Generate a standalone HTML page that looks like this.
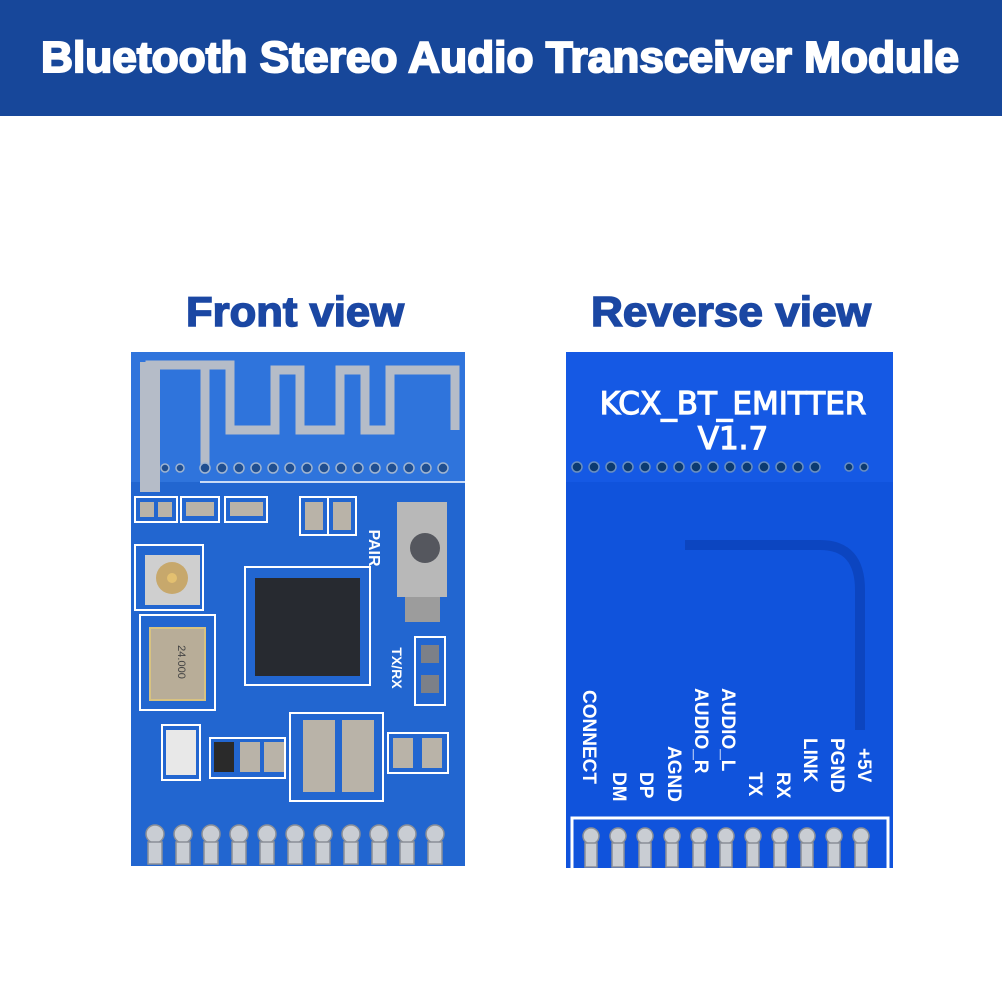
<!DOCTYPE html>
<html><head><meta charset="utf-8"><style>
html,body{margin:0;padding:0;background:#fff;width:1002px;height:1002px;overflow:hidden}
</style></head><body>
<svg width="1002" height="1002" viewBox="0 0 1002 1002" xmlns="http://www.w3.org/2000/svg" font-family="Liberation Sans, sans-serif">
<rect x="0" y="0" width="1002" height="116" fill="#17479a"/>
<text x="41" y="72" textLength="918" lengthAdjust="spacingAndGlyphs" font-size="44" font-weight="bold" fill="#fff" stroke="#fff" stroke-width="2">Bluetooth Stereo Audio Transceiver Module</text>
<text x="186" y="326" textLength="218" lengthAdjust="spacingAndGlyphs" font-size="42" font-weight="bold" fill="#1b47a3" stroke="#1b47a3" stroke-width="1.5">Front view</text>
<text x="591" y="326" textLength="280" lengthAdjust="spacingAndGlyphs" font-size="42" font-weight="bold" fill="#1b47a3" stroke="#1b47a3" stroke-width="1.5">Reverse view</text>

<!-- FRONT BOARD -->
<rect x="131" y="352" width="334" height="514" fill="#2266d0"/>
<rect x="131" y="352" width="334" height="130" fill="#2f74dc"/>
<path d="M150 490 V365 H205 V470 M205 365 H230 V430 H275 V370 H300 V430 H340 V370 H365 V430 H390 V370 H455 V430" fill="none" stroke="#b5bcc8" stroke-width="9"/>
<rect x="140" y="362" width="20" height="130" fill="#b5bcc8"/>
<g fill="#1f4e90" stroke="#9fb4d0" stroke-width="1.5">
<circle cx="165" cy="468" r="4"/><circle cx="180" cy="468" r="4"/>
<circle cx="205" cy="468" r="5"/><circle cx="222" cy="468" r="5"/><circle cx="239" cy="468" r="5"/><circle cx="256" cy="468" r="5"/><circle cx="273" cy="468" r="5"/><circle cx="290" cy="468" r="5"/><circle cx="307" cy="468" r="5"/><circle cx="324" cy="468" r="5"/><circle cx="341" cy="468" r="5"/><circle cx="358" cy="468" r="5"/><circle cx="375" cy="468" r="5"/><circle cx="392" cy="468" r="5"/><circle cx="409" cy="468" r="5"/><circle cx="426" cy="468" r="5"/><circle cx="443" cy="468" r="5"/>
</g>
<line x1="200" y1="482" x2="465" y2="482" stroke="#fff" stroke-width="1.5"/>
<g fill="none" stroke="#fff" stroke-width="2">
<rect x="135" y="497" width="42" height="25"/><rect x="181" y="497" width="38" height="25"/><rect x="225" y="497" width="42" height="25"/>
<rect x="300" y="497" width="28" height="38"/><rect x="328" y="497" width="28" height="38"/>
<rect x="135" y="545" width="68" height="65"/>
<rect x="245" y="567" width="125" height="118"/>
<rect x="140" y="615" width="75" height="95"/>
<rect x="415" y="637" width="30" height="68"/>
<rect x="290" y="713" width="93" height="88"/>
<rect x="162" y="725" width="38" height="55"/>
<rect x="210" y="738" width="75" height="40"/>
<rect x="388" y="733" width="60" height="40"/>
</g>
<g fill="#b9b3a8">
<rect x="140" y="502" width="14" height="15"/><rect x="158" y="502" width="14" height="15"/><rect x="186" y="502" width="28" height="14"/><rect x="230" y="502" width="33" height="14"/>
<rect x="305" y="502" width="18" height="28"/><rect x="333" y="502" width="18" height="28"/>
<rect x="150" y="628" width="55" height="72" fill="#b8ad98" stroke="#d8c280" stroke-width="2"/>
<rect x="397" y="502" width="50" height="95" fill="#b8b8b8"/>
<rect x="405" y="597" width="35" height="25" fill="#9c9c9c"/>
<rect x="303" y="720" width="32" height="72"/><rect x="342" y="720" width="32" height="72"/>
<rect x="214" y="742" width="20" height="30" fill="#2a2a2a"/><rect x="240" y="742" width="20" height="30"/><rect x="264" y="742" width="20" height="30"/>
<rect x="393" y="738" width="20" height="30"/><rect x="422" y="738" width="20" height="30"/>
<rect x="421" y="645" width="18" height="18" fill="#7c8088"/><rect x="421" y="675" width="18" height="18" fill="#7c8088"/>
<rect x="166" y="730" width="30" height="45" fill="#e8e8e8"/>
</g>
<rect x="145" y="555" width="55" height="50" fill="#cfcfcf"/>
<circle cx="172" cy="578" r="16" fill="#c7a86c"/><circle cx="172" cy="578" r="5" fill="#e3c070"/>
<circle cx="425" cy="548" r="15" fill="#55575e"/>
<rect x="255" y="578" width="105" height="98" fill="#272a30"/>
<text x="178" y="662" font-size="11" fill="#444" transform="rotate(90 178 662)" text-anchor="middle">24.000</text>
<text x="369" y="548" font-size="16" font-weight="bold" fill="#fff" transform="rotate(90 369 548)" text-anchor="middle">PAIR</text>
<text x="392" y="668" font-size="14" font-weight="bold" fill="#fff" transform="rotate(90 392 668)" text-anchor="middle">TX/RX</text>
<g fill="#c9cdd3" stroke="#8a8f98" stroke-width="1.5">
<circle cx="155" cy="834" r="9"/><circle cx="183" cy="834" r="9"/><circle cx="211" cy="834" r="9"/><circle cx="239" cy="834" r="9"/><circle cx="267" cy="834" r="9"/><circle cx="295" cy="834" r="9"/><circle cx="323" cy="834" r="9"/><circle cx="351" cy="834" r="9"/><circle cx="379" cy="834" r="9"/><circle cx="407" cy="834" r="9"/><circle cx="435" cy="834" r="9"/>
<rect x="148" y="842" width="14" height="22"/><rect x="176" y="842" width="14" height="22"/><rect x="204" y="842" width="14" height="22"/><rect x="232" y="842" width="14" height="22"/><rect x="260" y="842" width="14" height="22"/><rect x="288" y="842" width="14" height="22"/><rect x="316" y="842" width="14" height="22"/><rect x="344" y="842" width="14" height="22"/><rect x="372" y="842" width="14" height="22"/><rect x="400" y="842" width="14" height="22"/><rect x="428" y="842" width="14" height="22"/>
</g>

<!-- REVERSE BOARD -->
<rect x="566" y="352" width="327" height="516" fill="#1053dc"/>
<rect x="566" y="352" width="327" height="130" fill="#1559e4"/>
<text x="733" y="414" text-anchor="middle" font-size="31" fill="#fff" stroke="#fff" stroke-width="1.2" font-family="DejaVu Sans, sans-serif">KCX_BT_EMITTER</text>
<text x="733" y="449" text-anchor="middle" font-size="31" fill="#fff" stroke="#fff" stroke-width="1.2" font-family="DejaVu Sans, sans-serif">V1.7</text>
<g fill="#0b3a70" stroke="#6a8fc0" stroke-width="1.5">
<circle cx="577" cy="467" r="5"/><circle cx="594" cy="467" r="5"/><circle cx="611" cy="467" r="5"/><circle cx="628" cy="467" r="5"/><circle cx="645" cy="467" r="5"/><circle cx="662" cy="467" r="5"/><circle cx="679" cy="467" r="5"/><circle cx="696" cy="467" r="5"/><circle cx="713" cy="467" r="5"/><circle cx="730" cy="467" r="5"/><circle cx="747" cy="467" r="5"/><circle cx="764" cy="467" r="5"/><circle cx="781" cy="467" r="5"/><circle cx="798" cy="467" r="5"/><circle cx="815" cy="467" r="5"/><circle cx="849" cy="467" r="4"/><circle cx="864" cy="467" r="4"/>
</g>
<path d="M685 545 H820 Q860 545 860 590 V730" fill="none" stroke="#0c45c0" stroke-width="10"/>
<g font-size="19" font-weight="bold" fill="#fff">
<text transform="translate(583 808) rotate(90)" x="-118">CONNECT</text>
<text transform="translate(613 808) rotate(90)" x="-36">DM</text>
<text transform="translate(640 808) rotate(90)" x="-36">DP</text>
<text transform="translate(668 808) rotate(90)" x="-62">AGND</text>
<text transform="translate(695 808) rotate(90)" x="-120">AUDIO_R</text>
<text transform="translate(722 808) rotate(90)" x="-120">AUDIO_L</text>
<text transform="translate(749 808) rotate(90)" x="-36">TX</text>
<text transform="translate(777 808) rotate(90)" x="-36">RX</text>
<text transform="translate(804 808) rotate(90)" x="-70">LINK</text>
<text transform="translate(831 808) rotate(90)" x="-70">PGND</text>
<text transform="translate(858 808) rotate(90)" x="-60">+5V</text>
</g>
<path d="M572 868 V818 H888 V868" fill="none" stroke="#fff" stroke-width="3"/>
<g fill="#c9cdd3" stroke="#8a8f98" stroke-width="1.5">
<circle cx="591" cy="836" r="8"/><circle cx="618" cy="836" r="8"/><circle cx="645" cy="836" r="8"/><circle cx="672" cy="836" r="8"/><circle cx="699" cy="836" r="8"/><circle cx="726" cy="836" r="8"/><circle cx="753" cy="836" r="8"/><circle cx="780" cy="836" r="8"/><circle cx="807" cy="836" r="8"/><circle cx="834" cy="836" r="8"/><circle cx="861" cy="836" r="8"/>
<rect x="585" y="843" width="12" height="24"/><rect x="612" y="843" width="12" height="24"/><rect x="639" y="843" width="12" height="24"/><rect x="666" y="843" width="12" height="24"/><rect x="693" y="843" width="12" height="24"/><rect x="720" y="843" width="12" height="24"/><rect x="747" y="843" width="12" height="24"/><rect x="774" y="843" width="12" height="24"/><rect x="801" y="843" width="12" height="24"/><rect x="828" y="843" width="12" height="24"/><rect x="855" y="843" width="12" height="24"/>
</g>
</svg>
</body></html>
